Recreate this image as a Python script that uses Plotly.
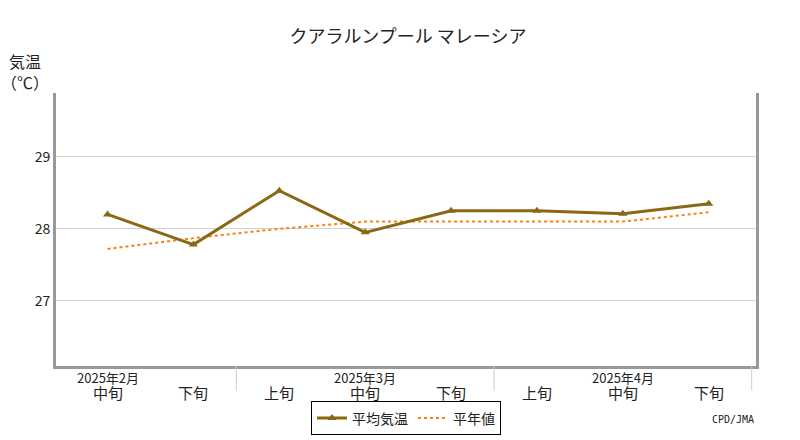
import plotly.graph_objects as go

x_idx = [0, 1, 2, 3, 4, 5, 6, 7]
dekad_labels = ["中旬", "下旬", "上旬", "中旬", "下旬", "上旬", "中旬", "下旬"]
month_labels = ["2025年2月", "2025年3月", "2025年4月"]
month_pos = [0, 3, 6]
avg_temp = [28.20, 27.78, 28.53, 27.95, 28.25, 28.25, 28.21, 28.35]
normal_temp = [27.72, 27.87, 28.00, 28.10, 28.10, 28.10, 28.10, 28.23]
y_ticks = [27, 28, 29]

F = "Noto Sans CJK JP"
fig = go.Figure()
fig.add_trace(go.Scatter(x=x_idx, y=normal_temp, mode="lines", name="平年値",
                         line=dict(color="#ff7f0e", width=2, dash="dot")))
fig.add_trace(go.Scatter(x=x_idx, y=avg_temp, mode="lines+markers", name="平均気温",
                         line=dict(color="#8b6914", width=3),
                         marker=dict(symbol="triangle-up", size=8, color="#8b6914")))

fig.update_layout(
    width=800, height=440, margin=dict(l=48, r=52, t=85, b=70),
    paper_bgcolor="white", plot_bgcolor="white",
    font=dict(family=F, size=14, color="#222"),
    title=dict(text="クアラルンプール マレーシア", x=0.5, xanchor="center", y=0.95, font=dict(size=18)),
    showlegend=True,
    legend=dict(orientation="h", x=0.5, xanchor="center", y=-0.13, yanchor="top",
                bordercolor="black", borderwidth=1, traceorder="reversed", font=dict(size=14)),
    xaxis=dict(range=[-0.6, 7.55], showticklabels=False, showgrid=False, zeroline=False,
               showline=True, linecolor="#999", linewidth=3, mirror=False),
    yaxis=dict(range=[26.09, 29.89], tickvals=y_ticks, showgrid=True, gridcolor="#d0d0d0",
               zeroline=False, showline=True, linecolor="#999", linewidth=3, mirror=True,
               ticks="", tickfont=dict(size=14)),
)
for xi, lab in zip(x_idx, dekad_labels):
    fig.add_annotation(x=xi, y=-0.05, xref="x", yref="paper", text=lab, showarrow=False,
                       yanchor="top", font=dict(size=15))
for xi, lab in zip(month_pos, month_labels):
    fig.add_annotation(x=xi, y=0.0, xref="x", yref="paper", text=lab, showarrow=False,
                       yanchor="top", font=dict(size=13))
for sx in [1.5, 4.5, 7.5]:
    fig.add_shape(type="line", x0=sx, x1=sx, xref="x", y0=0, y1=-0.09, yref="paper",
                  line=dict(color="#ccc", width=1))
fig.add_annotation(x=0, y=1.17, xref="paper", yref="paper", text="気温<br>（℃）", showarrow=False,
                   xanchor="right", yanchor="top", xshift=-5, align="center", font=dict(size=16))
fig.add_annotation(x=1.0, y=-0.17, xref="paper", yref="paper", text="CPD/JMA", showarrow=False,
                   xanchor="right", yanchor="top", font=dict(size=10, family="DejaVu Sans Mono"))
fig.write_html("out.html")
